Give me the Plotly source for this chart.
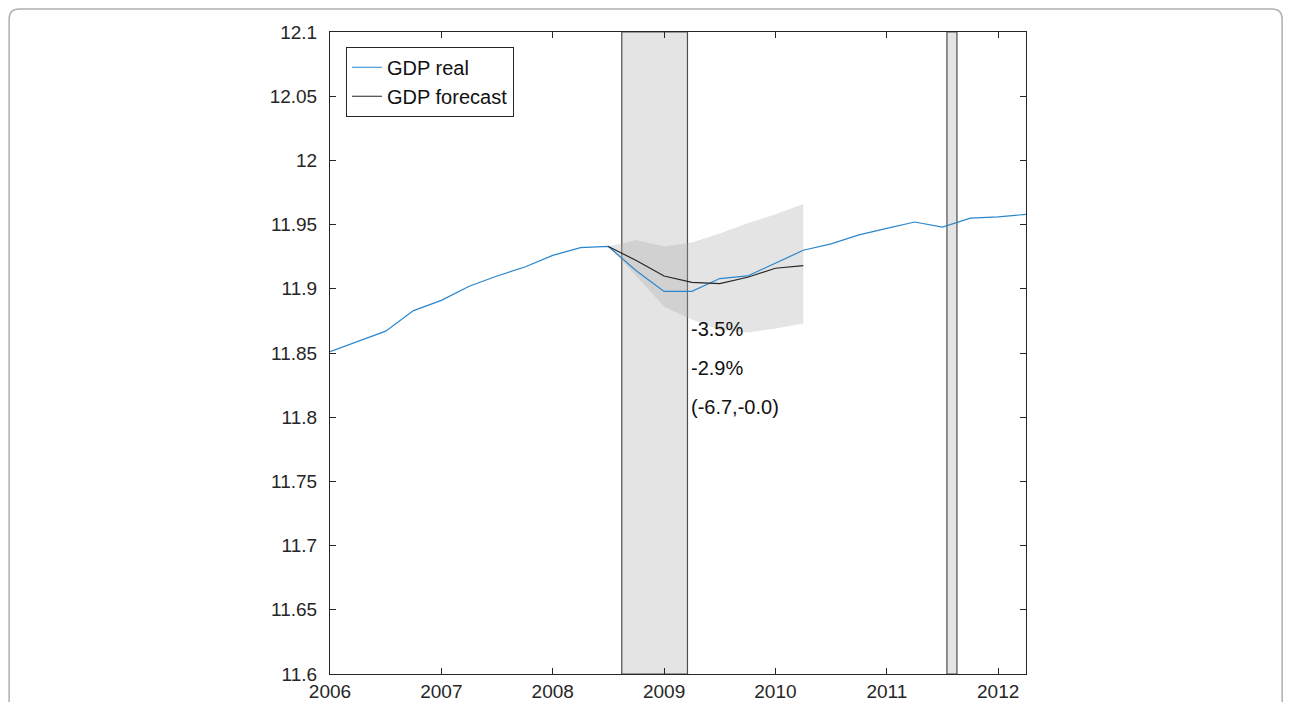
import plotly.graph_objects as go

# ---- data ----
quarters = [2006.0, 2006.25, 2006.5, 2006.75, 2007.0, 2007.25, 2007.5, 2007.75,
            2008.0, 2008.25, 2008.5, 2008.75, 2009.0, 2009.25, 2009.5, 2009.75,
            2010.0, 2010.25, 2010.5, 2010.75, 2011.0, 2011.25, 2011.5, 2011.75,
            2012.0, 2012.25]
gdp_real = [11.851, 11.859, 11.867, 11.883, 11.891, 11.902, 11.910, 11.917,
            11.926, 11.932, 11.933, 11.914, 11.898, 11.898, 11.908, 11.910,
            11.920, 11.930, 11.935, 11.942, 11.947, 11.952, 11.948, 11.955,
            11.956, 11.958]

fc_quarters = [2008.5, 2008.75, 2009.0, 2009.25, 2009.5, 2009.75, 2010.0, 2010.25]
gdp_forecast = [11.933, 11.922, 11.910, 11.905, 11.904, 11.909, 11.916, 11.918]
band_upper = [11.933, 11.938, 11.933, 11.936, 11.943, 11.951, 11.958, 11.966]
band_lower = [11.933, 11.910, 11.886, 11.876, 11.868, 11.866, 11.869, 11.873]

recessions = [(2008.62, 2009.21), (2011.54, 2011.63)]

annot_x = 2009.225
annot_y = [11.869, 11.838, 11.808]
annot_text = ["-3.5%", "-2.9%", "(-6.7,-0.0)"]

x_ticks = [2006, 2007, 2008, 2009, 2010, 2011, 2012]
y_ticks = [11.6, 11.65, 11.7, 11.75, 11.8, 11.85, 11.9, 11.95, 12.0, 12.05, 12.1]
y_tick_text = ["11.6", "11.65", "11.7", "11.75", "11.8", "11.85", "11.9",
               "11.95", "12", "12.05", "12.1"]

FONT = "Liberation Sans, Arial, Helvetica, sans-serif"
AX = "#262626"

fig = go.Figure()

# confidence band
fig.add_trace(go.Scatter(
    x=fc_quarters + fc_quarters[::-1],
    y=band_upper + band_lower[::-1],
    fill="toself", fillcolor="rgba(170,170,170,0.32)",
    line=dict(width=0), mode="lines", showlegend=False, hoverinfo="skip"))

fig.add_trace(go.Scatter(x=quarters, y=gdp_real, mode="lines", name="GDP real",
                         line=dict(color="#2a86cc", width=1.2)))
fig.add_trace(go.Scatter(x=fc_quarters, y=gdp_forecast, mode="lines", name="GDP forecast",
                         line=dict(color="#262626", width=1.2)))

for a, b in recessions:
    fig.add_shape(type="rect", xref="x", yref="paper", x0=a, x1=b, y0=0, y1=1,
                  fillcolor="rgba(170,170,170,0.32)",
                  line=dict(color="#4d4d4d", width=1.2), layer="below")

for yv, t in zip(annot_y, annot_text):
    fig.add_annotation(x=annot_x, y=yv, text=t, showarrow=False, xanchor="left",
                       yanchor="middle", font=dict(family=FONT, size=20, color="#111"))

# figure frame (rounded rectangle around whole figure)
fig.add_shape(type="path", xref="paper", yref="paper",
              path="M -0.461 -0.2 L -0.461 1.020 Q -0.461 1.0358 -0.4466 1.0358 "
                   "L 1.3536 1.0358 Q 1.368 1.0358 1.368 1.020 L 1.368 -0.2",
              line=dict(color="#b0b0b0", width=1.5))

axis_common = dict(showline=True, linecolor=AX, linewidth=1, mirror="ticks",
                   ticks="inside", ticklen=6, tickcolor=AX, showgrid=False,
                   zeroline=False, tickfont=dict(family=FONT, size=19, color=AX))

fig.update_xaxes(range=[2006, 2012.25], tickvals=x_ticks, **axis_common)
fig.update_yaxes(range=[11.6, 12.1], tickvals=y_ticks, ticktext=y_tick_text,
                 ticklabelstandoff=8, **axis_common)

fig.update_layout(
    width=1283, height=694,
    margin=dict(l=322, r=265, t=24, b=28, autoexpand=False),
    paper_bgcolor="white", plot_bgcolor="white",
    font=dict(family=FONT, size=19, color=AX),
    legend=dict(x=0.023, y=0.977, xanchor="left", yanchor="top",
                bgcolor="white", bordercolor=AX, borderwidth=1,
                font=dict(family=FONT, size=20, color="#111"),
                tracegroupgap=0, itemwidth=30),
)

fig.write_html("out.html")
